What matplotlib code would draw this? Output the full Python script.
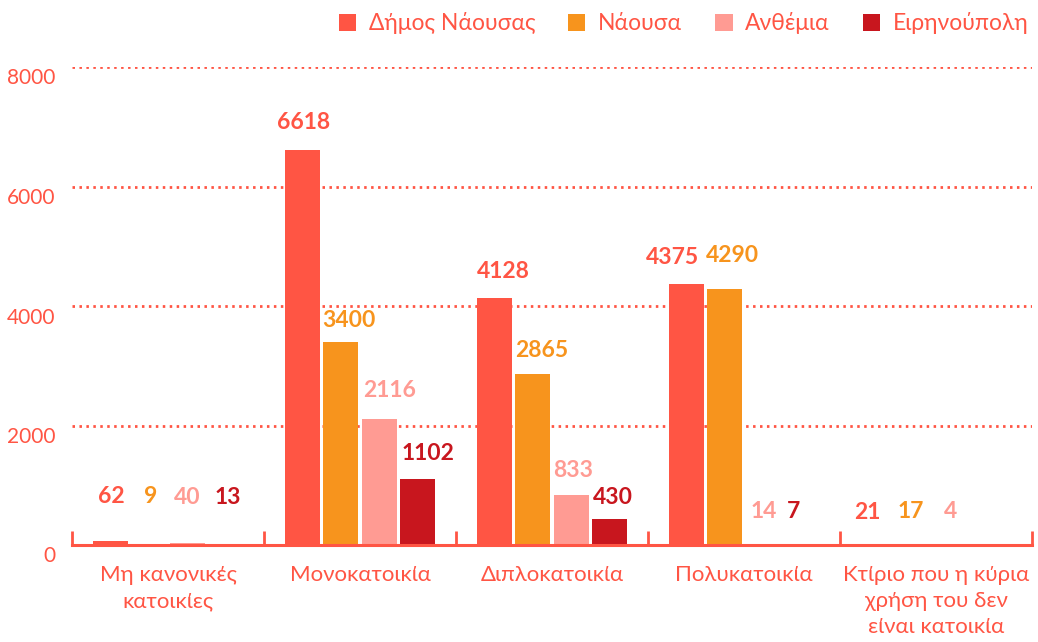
import matplotlib
matplotlib.use("Agg")
import matplotlib.pyplot as plt
import matplotlib.transforms as mtransforms
from matplotlib.patches import Patch
import numpy as np

categories = ["Μη κανονικές\nκατοικίες", "Μονοκατοικία", "Διπλοκατοικία",
              "Πολυκατοικία", "Κτίριο που η κύρια\nχρήση του δεν\nείναι κατοικία"]
series_names = ["Δήμος Νάουσας", "Νάουσα", "Ανθέμια", "Ειρηνούπολη"]
dimos = [62, 6618, 4128, 4375, 21]
naousa = [9, 3400, 2865, 4290, 17]
anthemia = [40, 2116, 833, 14, 4]
eirinoupoli = [13, 1102, 430, 7, None]
yticks = [0, 2000, 4000, 6000, 8000]

colors = ["#FF5544", "#F7941D", "#FF9B93", "#C8161E"]
text_color = "#FF5544"

# label placement offsets in pixels (dx, dy above bar top), per series x group
label_dx = [[1, 1, 8.6, -14, -11],
            [1.5, 8, 9, 8, -6],
            [0, 10, 2, 1, -5],
            [2.5, 10.5, 3, -7.6, 0]]
label_dy = [[44.3, 26.6, 26.4, 25.6, 31.7],
            [47.5, 20.9, 23.8, 32.7, 32],
            [45.6, 27.6, 25.2, 32.2, 32.8],
            [47.2, 25.2, 22.3, 32.6, 32]]

plt.rcParams['font.family'] = ['Lato', 'Noto Sans', 'DejaVu Sans']

fig = plt.figure(figsize=(10.38, 6.42), dpi=100)
ax = fig.add_axes([72/1038, 97/642, 960/1038, 478/642])

x = np.arange(len(categories))
slot = 0.2
bw = 0.182
all_series = [dimos, naousa, anthemia, eirinoupoli]

for i, (vals, col) in enumerate(zip(all_series, colors)):
    off = (i - 1.5) * slot
    for j, v in enumerate(vals):
        if v is None:
            continue
        ax.bar(x[j] + off, v, width=bw, color=col, zorder=3)
        ax.annotate(str(v), (x[j] + off, v),
                    xytext=(label_dx[i][j], label_dy[i][j]), textcoords="offset pixels",
                    ha="center", va="center", color=col,
                    fontsize=16.5, fontweight="bold")

ax.set_xlim(-0.5, len(categories) - 0.5)
ax.set_ylim(0, 8000)
ax.set_yticks(yticks)
ax.set_yticklabels([str(t) for t in yticks])
for t in yticks[1:]:
    ax.axhline(t, color=text_color, linestyle=(0, (0.9, 1.6)), linewidth=2.0, zorder=1)

for s in ["top", "right", "left"]:
    ax.spines[s].set_visible(False)
ax.spines["bottom"].set_color(text_color)
ax.spines["bottom"].set_linewidth(2.2)
ax.spines["bottom"].set_zorder(4)

ax.tick_params(axis="y", length=0, pad=12, labelsize=15, labelcolor=text_color)
shift = mtransforms.ScaledTranslation(0, -9.5 / 100, fig.dpi_scale_trans)
for lbl in ax.get_yticklabels():
    lbl.set_transform(lbl.get_transform() + shift)

ax.set_xticks(x)
ax.set_xticklabels(categories, fontsize=16, color=text_color, linespacing=1.37)
ax.tick_params(axis="x", length=0, pad=14.5)
ax.set_xticks(np.arange(-0.5, len(categories)), minor=True)
ax.tick_params(axis="x", which="minor", direction="in", length=10, width=2, color=text_color)

handles = [Patch(facecolor=c, edgecolor="none") for c in colors]
leg = ax.legend(handles, series_names, loc="lower right", bbox_to_anchor=(1.006, 1.0495),
                ncol=4, frameon=False, fontsize=16.5, handlelength=0.75, handleheight=0.75,
                handletextpad=0.55, columnspacing=1.45, borderaxespad=0)
for t in leg.get_texts():
    t.set_color(text_color)

fig.savefig("out.png", dpi=100)
